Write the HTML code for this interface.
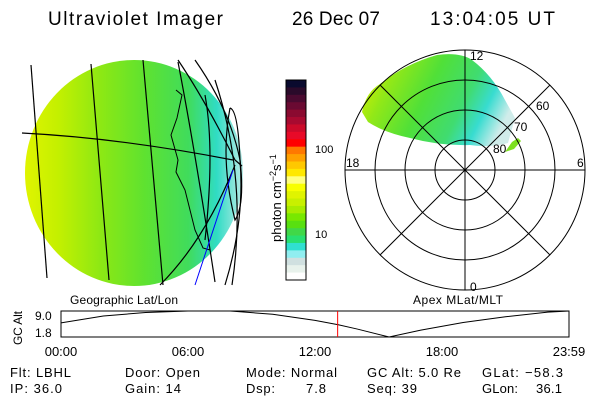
<!DOCTYPE html>
<html><head><meta charset="utf-8"><style>
body{margin:0;background:#fff;}
svg text{font-family:"Liberation Sans",sans-serif;fill:#000;}
</style></head><body>
<svg width="600" height="400" viewBox="0 0 600 400">
<defs>
<linearGradient id="diskGrad" x1="0" y1="0" x2="1" y2="0">
<stop offset="0" stop-color="#e0f400"/>
<stop offset="0.15" stop-color="#c4f000"/>
<stop offset="0.35" stop-color="#8ce814"/>
<stop offset="0.55" stop-color="#5ee230"/>
<stop offset="0.75" stop-color="#40dc5c"/>
<stop offset="0.88" stop-color="#30dcc4"/>
<stop offset="1" stop-color="#b8eae6"/>
</linearGradient>
<linearGradient id="blobGrad" x1="0" y1="0.2" x2="1" y2="0.5">
<stop offset="0" stop-color="#d8f000"/>
<stop offset="0.2" stop-color="#90e818"/>
<stop offset="0.45" stop-color="#50e038"/>
<stop offset="0.7" stop-color="#40dc70"/>
<stop offset="0.85" stop-color="#38dcd0"/>
<stop offset="1" stop-color="#d0ecea"/>
</linearGradient>
<clipPath id="polarClip"><rect x="330" y="40" width="270" height="255"/></clipPath>
</defs>

<g font-size="19">
<text x="48" y="25" textLength="175" lengthAdjust="spacing">Ultraviolet Imager</text>
<text x="292" y="25" textLength="88" lengthAdjust="spacing">26 Dec 07</text>
<text x="430" y="25" textLength="125" lengthAdjust="spacing">13:04:05 UT</text>
</g>

<g>
<ellipse cx="134" cy="173" rx="109" ry="113" fill="url(#diskGrad)"/>
<g fill="none" stroke="#000" stroke-width="1.2">
<path d="M31,65 L47,278"/>
<path d="M91,64 L109,280"/>
<path d="M143,60 L163,285"/>
<path d="M178,62 Q195,150 215,282"/>
<path d="M22,133 Q120,138 233,160"/>
<path d="M235,160 L242,166"/>
<path d="M178,60 Q205,100 235,160"/>
<path d="M195,60 Q230,110 240,160 Q245,220 225,285"/>
<path d="M230,108 Q220,160 235,220 Q245,205 240,160 Q238,110 230,108"/>
<path d="M160,285 Q205,240 235,165"/>
<path d="M205,95 Q215,150 205,240"/>
<path d="M215,80 Q248,180 232,285"/>
</g>
<path d="M176,90 L182,95 L177,118 L171,135 L178,160 L176,172 L185,190 L195,230 L203,248 L210,250" fill="none" stroke="#000" stroke-width="1"/>
<path d="M233,170 L195,285" fill="none" stroke="#0000ff" stroke-width="1"/>
<text x="70" y="304" font-size="12" textLength="108" lengthAdjust="spacing">Geographic Lat/Lon</text>
</g>

<g id="cbar"></g>
<text transform="translate(281,242) rotate(-90)" font-size="13">photon cm<tspan dy="-5" font-size="9">−2</tspan><tspan dy="5">s</tspan><tspan dy="-5" font-size="9">−1</tspan></text>
<text x="315" y="153" font-size="11">100</text>
<text x="315" y="238" font-size="11">10</text>

<g>
<path d="M362,112 Q366,92 380,84 Q405,64 437,55 Q460,52 472,60 Q492,75 505,100 L515,118 L508,143 Q490,148 470,145 Q440,146 410,138 Q385,133 368,122 Z" fill="url(#blobGrad)"/>
<path d="M505,152 L512,142 L518,138 L521,141 L514,149 Z" fill="#7ee020"/>
<g clip-path="url(#polarClip)" fill="none" stroke="#000" stroke-width="1">
<circle cx="465" cy="170" r="30"/><circle cx="465" cy="170" r="60"/>
<circle cx="465" cy="170" r="90"/><circle cx="465" cy="170" r="120"/>
<line x1="345" y1="170" x2="585" y2="170"/><line x1="465" y1="50" x2="465" y2="290"/>
<line x1="380" y1="85" x2="550" y2="255"/><line x1="550" y1="85" x2="380" y2="255"/>
</g>
<g font-size="12">
<text x="470" y="60">12</text><text x="346" y="167">18</text><text x="577" y="167">6</text><text x="470" y="291">0</text>
<text x="536" y="110">60</text><text x="514" y="131">70</text><text x="493" y="153">80</text>
</g>
<text x="413" y="304" font-size="12" textLength="90" lengthAdjust="spacing">Apex MLat/MLT</text>
</g>

<g id="alt">
<rect x="61" y="311" width="508" height="26" fill="none" stroke="#000" stroke-width="1"/>
</g>
<g font-size="12">
<text transform="translate(22,345) rotate(-90)" textLength="34" lengthAdjust="spacing">GC Alt</text>
<text x="35" y="320">9.0</text><text x="35" y="337">1.8</text>
</g>

<g font-size="13">
<text x="10" y="377" textLength="61">Flt: LBHL</text><text x="125" y="377" textLength="75">Door: Open</text><text x="246" y="377" textLength="91">Mode: Normal</text><text x="367" y="377" textLength="94">GC Alt: 5.0 Re</text><text x="482" y="377" textLength="81">GLat: −58.3</text>
<text x="10" y="393" textLength="52">IP: 36.0</text><text x="125" y="393" textLength="56">Gain: 14</text><text x="246" y="393" textLength="29">Dsp:</text><text x="306" y="393" textLength="20">7.8</text><text x="367" y="393" textLength="50">Seq: 39</text><text x="482" y="393" textLength="36">GLon:</text><text x="536" y="393" textLength="26">36.1</text>
</g>
</svg>
<script>
const ns="http://www.w3.org/2000/svg";
const cbarColors=["#0a0a2e","#2a0a2a","#4a0a30","#6a0a32","#8a0a30","#a80a30","#cc0a2a","#e80a28","#ff0000","#ff7800","#ffa000","#ffc800","#ffe800","#ffff80","#f8ff00","#e0f400","#c8f000","#a8ec00","#78e800","#58e010","#40d848","#28e070","#30e0d0","#90eef0","#d0e0e0","#e8f2ec","#ffffff"];
const cb=document.getElementById('cbar');
const cTop=80,cBot=280,cH=(cBot-cTop)/cbarColors.length;
cbarColors.forEach((c,i)=>{const r=document.createElementNS(ns,'rect');
r.setAttribute('x',286);r.setAttribute('y',cTop+i*cH);r.setAttribute('width',20);r.setAttribute('height',cH+0.5);r.setAttribute('fill',c);


cb.appendChild(r);});
const fr=document.createElementNS(ns,'rect');fr.setAttribute('x',286);fr.setAttribute('y',cTop);fr.setAttribute('width',20);fr.setAttribute('height',cBot-cTop);fr.setAttribute('fill','none');fr.setAttribute('stroke','#000');


cb.appendChild(fr);

const altHours=[0,2,4,6,8,10,12,13.1,14,15.5,17,19,21,23,24];
const altValues=[5.7,7.6,8.6,9.0,9.0,8.1,6.4,5.2,4.0,1.8,3.7,5.8,7.4,8.7,9.0];
const tickLabels=["00:00","06:00","12:00","18:00","23:59"];
const tickHours=[0,6,12,18,24];
const currentHour=13.07;
const X0=61,X1=569,Y0=337,Y1=311,vMin=1.8,vMax=9.0;
const xs=h=>X0+(X1-X0)*h/24, ys=v=>Y0-(Y0-Y1)*(v-vMin)/(vMax-vMin);
const g=document.getElementById('alt');
const p=document.createElementNS(ns,'polyline');
p.setAttribute('points',altHours.map((h,i)=>xs(h)+','+ys(altValues[i])).join(' '));
p.setAttribute('fill','none');p.setAttribute('stroke','#000');


g.appendChild(p);
const rl=document.createElementNS(ns,'line');
rl.setAttribute('x1',xs(currentHour));rl.setAttribute('x2',xs(currentHour));rl.setAttribute('y1',Y1);rl.setAttribute('y2',Y0);rl.setAttribute('stroke','#ff0000');


g.appendChild(rl);
tickHours.forEach((h,i)=>{const t=document.createElementNS(ns,'text');
t.setAttribute('x',xs(h));t.setAttribute('y',356);t.setAttribute('font-size',13);t.setAttribute('text-anchor','middle');
t.textContent=tickLabels[i];


g.appendChild(t);});
</script>
</body></html>
